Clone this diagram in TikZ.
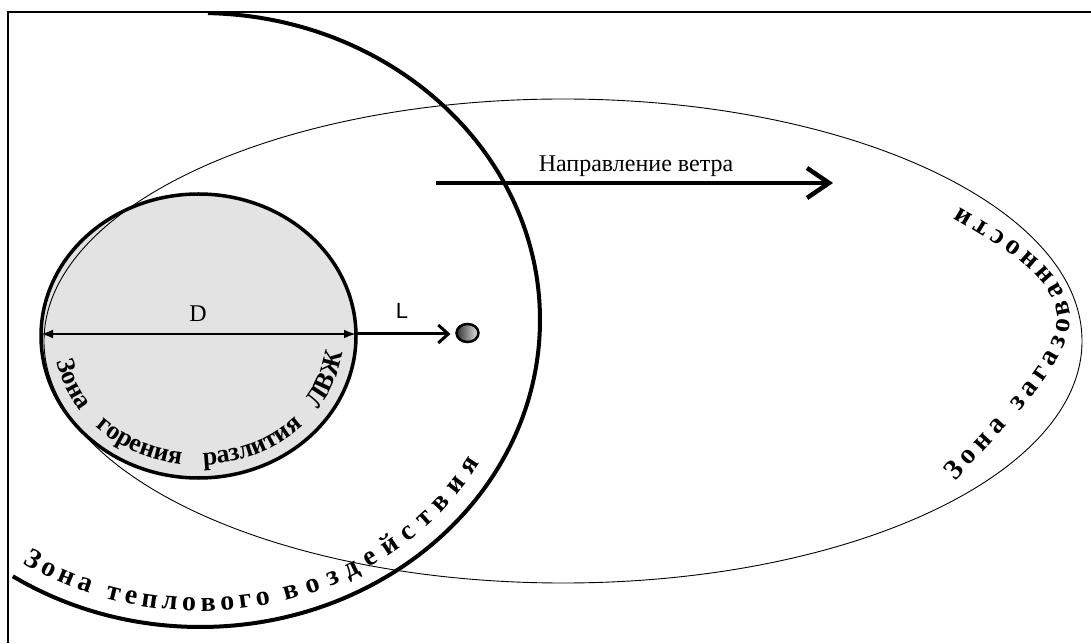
\documentclass[tikz,border=0pt]{standalone}
\usepackage{fontspec}
\setmainfont{Liberation Serif}
\newfontfamily\lsans{Liberation Sans}
\usetikzlibrary{arrows.meta,decorations.text,shapes.geometric,calc}
\begin{document}
\begin{tikzpicture}[x=1pt,y=1pt,
  frameline/.style={line width=1.2pt},
  thinzone/.style={ellipse, draw, line width=0.9pt, inner sep=0pt, outer sep=0pt},
  poolzone/.style={ellipse, draw, fill=black!11, line width=3.5pt, inner sep=0pt, outer sep=0pt},
  heatzone/.style={line width=4pt},
  curvetext/.style n args={3}{decorate, decoration={text along path, text align={#1},
     text={|\fontsize{#2}{#2}\selectfont\bfseries|#3}}},
  lbl/.style={inner sep=0pt, anchor=base},
  ball/.style={ellipse, draw, line width=2.5pt, inner sep=0pt, outer sep=0pt, minimum width=22pt, minimum height=18pt, left color=black!80, right color=black!10}
]
\useasboundingbox (0,0) rectangle (1091,643);
% frame
\coordinate (fb) at (8,0);
\coordinate (fc) at (8,631);
\coordinate (fr) at (1091,631);
\draw[frameline] (fb) -- (fc) -- (fr);
% pool of burning liquid
\node[poolzone, minimum width=315pt, minimum height=284pt] (pool) at (198.5,307) {};
% gas contamination zone
\node[thinzone, minimum width=1038pt, minimum height=484pt] (gas) at (563,302) {};
% heat zone arc
\coordinate (hc) at (200,323);
\draw[heatzone] (hc) ++(88.65:340pt and 307pt) arc[start angle=88.65, end angle=-123.4, x radius=340pt, y radius=307pt];
% D arrow
\coordinate (dl) at ($(pool.west)+(0,2)$);
\coordinate (dr) at ($(pool.east)+(0,2)$);
\draw[line width=2.5pt, {Latex[length=12pt,width=9pt]}-{Latex[length=12pt,width=9pt]}] (dl) -- (dr);
\node[lbl, font=\fontsize{24}{24}\selectfont] (dlab) at (198,321) {D};
% L arrow and source
\node[ball] (src) at (467.5,310) {};
\draw[line width=3pt, -{Straight Barb[length=10pt,width=18pt]}, shorten >=6pt] (dr) -- (dr -| src.west);
\node[lbl, font=\lsans\fontsize{22}{22}\selectfont] (llab) at (402,324) {L};
% wind arrow
\coordinate (w1) at (436,460);
\coordinate (w2) at (833,460);
\draw[line width=4.5pt, -{Straight Barb[length=22pt,width=30pt]}] (w1) -- (w2);
\node[lbl, font=\fontsize{24}{24}\selectfont] (wlab) at (636,471) {Направление ветра};
% curved labels
\path[curvetext={fit to path}{28}{Зона теплового}] (hc) ++(-123.4:322pt and 291pt) arc[start angle=-123.4, end angle=-77.3, x radius=322pt, y radius=291pt];
\path[curvetext={fit to path}{28}{воздействия}] (hc) ++(-74.6:322pt and 291pt) arc[start angle=-74.6, end angle=-29.5, x radius=322pt, y radius=291pt];
\path[curvetext={fit to path stretching spaces}{26}{Зона горения разлития ЛВЖ}] (pool.center) ++(191.5:145pt and 129pt) arc[start angle=191.5, end angle=352.6, x radius=145pt, y radius=129pt];
\coordinate (g1) at (955,161);
\coordinate (g2) at (1070,325);
\coordinate (g3) at (960,436);
\path[curvetext={fit to path}{28}{Зона загазованности}] (g1) .. controls (1016,228) and (1070,280) .. (g2) .. controls (1070,372) and (1005,410) .. (g3);
\end{tikzpicture}
\end{document}
